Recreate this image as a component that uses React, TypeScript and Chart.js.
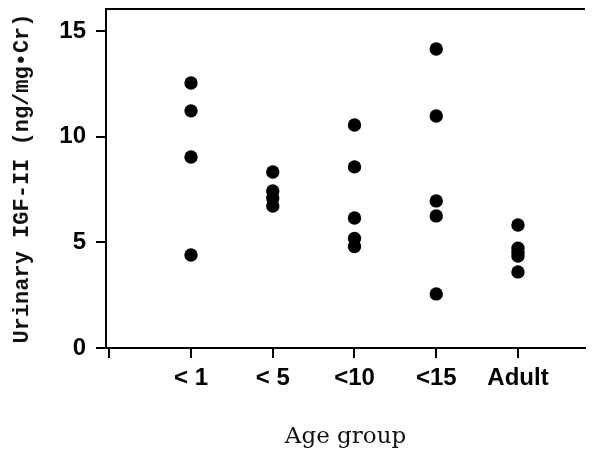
import React, { useEffect, useRef } from 'react';
import { Chart, registerables } from 'chart.js';

Chart.register(...registerables);

// Category labels (x positions 1..5)
const categories: string[] = ['< 1', '< 5', '<10', '<15', 'Adult'];

// Urinary IGF-II values per age group (ng/mg·Cr)
const groupLt1: number[] = [12.54, 11.22, 9.04, 4.4];
const groupLt5: number[] = [8.33, 7.43, 7.1, 6.72];
const groupLt10: number[] = [10.55, 8.57, 6.15, 5.18, 4.8];
const groupLt15: number[] = [14.15, 10.98, 6.96, 6.25, 2.56];
const groupAdult: number[] = [5.82, 4.72, 4.52, 4.35, 3.6];

const groups: number[][] = [groupLt1, groupLt5, groupLt10, groupLt15, groupAdult];

const yTickStep = 5;
const yMin = 0;
const yMax = 16.04;
const xMin = -0.04;
const xMax = 5.82;

const topLine = {
  id: 'topLine',
  afterDraw(chart: any) {
    const { ctx, chartArea } = chart;
    ctx.save();
    ctx.strokeStyle = '#000';
    ctx.lineWidth = 2;
    ctx.beginPath();
    ctx.moveTo(chartArea.left, chartArea.top);
    ctx.lineTo(chartArea.right, chartArea.top);
    ctx.stroke();
    ctx.restore();
  },
};

export default function App() {
  const ref = useRef<HTMLCanvasElement | null>(null);

  useEffect(() => {
    if (!ref.current) return;
    const points: { x: number; y: number }[] = [];
    groups.forEach((vals, i) => vals.forEach((v) => points.push({ x: i + 1, y: v })));

    const chart = new Chart(ref.current, {
      type: 'scatter',
      data: {
        datasets: [
          {
            data: points,
            backgroundColor: '#000',
            borderColor: '#000',
            pointRadius: 6.7,
            pointBorderWidth: 0,
          },
        ],
      },
      options: {
        animation: false,
        responsive: false,
        devicePixelRatio: 1,
        layout: { padding: { top: 9, right: 11, left: 0, bottom: 0 } },
        plugins: { legend: { display: false }, tooltip: { enabled: false } },
        scales: {
          x: {
            type: 'linear',
            min: xMin,
            max: xMax,
            afterFit: (s: any) => {
              s.height = 101;
              s.paddingLeft = 0;
              s.paddingRight = 0;
            },
            ticks: {
              stepSize: 1,
              includeBounds: false,
              autoSkip: false,
              maxRotation: 0,
              padding: 6,
              color: '#000',
              font: { family: 'Liberation Sans', weight: 'bold', size: 24 },
              callback: (v: any) => categories[Number(v) - 1] ?? '',
            },
            grid: {
              display: true,
              drawOnChartArea: false,
              drawTicks: true,
              tickLength: 10,
              color: '#000',
              lineWidth: 2,
            },
            border: { display: true, color: '#000', width: 2 },
            title: {
              display: true,
              text: 'Age group',
              color: '#111',
              font: { family: 'DejaVu Serif', size: 23, lineHeight: 1 },
              padding: { top: 0, bottom: 0 },
            },
          },
          y: {
            type: 'linear',
            min: yMin,
            max: yMax,
            afterFit: (s: any) => {
              s.width = 106;
              s.paddingTop = 0;
              s.paddingBottom = 0;
            },
            ticks: {
              stepSize: yTickStep,
              includeBounds: false,
              padding: 10,
              color: '#000',
              font: { family: 'Liberation Sans', weight: 'bold', size: 24 },
            },
            grid: {
              display: true,
              drawOnChartArea: false,
              drawTicks: true,
              tickLength: 10,
              color: '#000',
              lineWidth: 2,
            },
            border: { display: true, color: '#000', width: 2 },
            title: {
              display: true,
              text: 'Urinary IGF-II (ng/mg•Cr)',
              color: '#111',
              font: { family: 'Liberation Mono', weight: 'bold', size: 22, lineHeight: 1 },
              padding: { top: 11, bottom: 0 },
            },
          },
        },
      },
      plugins: [topLine],
    });
    return () => chart.destroy();
  }, []);

  return (
    <div style={{ position: 'fixed', left: 0, top: 0, width: 596, height: 449, background: '#fff' }}>
      <canvas ref={ref} width={596} height={449} />
    </div>
  );
}
